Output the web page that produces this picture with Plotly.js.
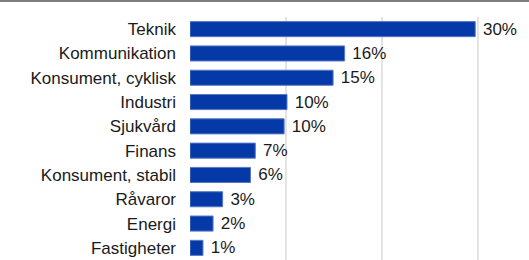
<!DOCTYPE html>
<html>
<head>
<meta charset="utf-8">
<script src="https://cdn.plot.ly/plotly-3.0.1.min.js"></script>
<style>
html,body{margin:0;padding:0;background:#fff;}
#wrap{width:529px;height:260px;overflow:hidden;}
#topline{width:529px;height:2px;background:#7f7f7f;}
#chart{width:529px;height:258px;}
</style>
</head>
<body>
<div id="wrap"><div id="topline"></div><div id="chart"></div></div>
<script>
const sectors = ["Teknik","Kommunikation","Konsument, cyklisk","Industri","Sjukvård","Finans","Konsument, stabil","Råvaror","Energi","Fastigheter"];
const weights = [29.7, 16.1, 14.9, 10.1, 9.8, 6.8, 6.3, 3.4, 2.4, 1.35];
const tickVals = [0, 10, 20, 30];

const trace = {
  type: 'bar',
  orientation: 'h',
  y: sectors,
  x: weights,
  marker: {color: '#0539a8', line: {color: '#5878c4', width: 1}},
  text: weights.map(v => ' ' + Math.round(v) + '%'),
  textposition: 'outside',
  constraintext: 'none',
  cliponaxis: false,
  textfont: {family: 'Liberation Sans, Arial, sans-serif', size: 17, color: '#1a1a1a'},
  hoverinfo: 'none'
};

const layout = {
  width: 529, height: 258,
  margin: {l: 190, r: 0, t: 15, b: 0},
  paper_bgcolor: '#fff', plot_bgcolor: '#fff',
  bargap: 0.38,
  showlegend: false,
  font: {family: 'Liberation Sans, Arial, sans-serif', size: 17, color: '#1a1a1a'},
  xaxis: {range: [0, 35.3], tickvals: tickVals, showticklabels: false, showgrid: true,
          gridcolor: '#e3e3e3', gridwidth: 1.5, zeroline: false, showline: false, fixedrange: true},
  yaxis: {autorange: 'reversed', showgrid: false, zeroline: false, showline: false,
          ticks: '', ticklabelstandoff: 13, fixedrange: true}
};

Plotly.newPlot('chart', [trace], layout, {staticPlot: true, displayModeBar: false});
</script>
</body>
</html>
